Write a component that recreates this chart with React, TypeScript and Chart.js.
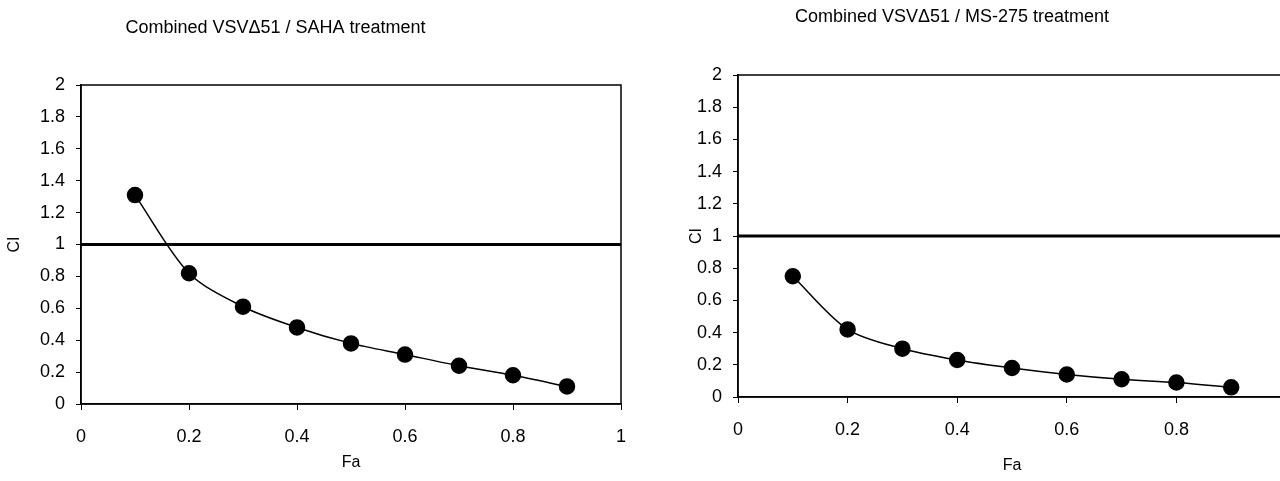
import { useEffect, useRef } from "react";
import { Chart, registerables } from "chart.js";

Chart.register(...registerables);

const faValues = [0.1, 0.2, 0.3, 0.4, 0.5, 0.6, 0.7, 0.8, 0.9];
const sahaCI = [1.31, 0.82, 0.61, 0.48, 0.38, 0.31, 0.24, 0.18, 0.11];
const ms275CI = [0.75, 0.42, 0.3, 0.23, 0.18, 0.14, 0.11, 0.09, 0.06];
const refFa = [0, 1];
const refCI = [1, 1];
const xTicks = [0, 0.2, 0.4, 0.6, 0.8, 1];
const yTicks = [0, 0.2, 0.4, 0.6, 0.8, 1, 1.2, 1.4, 1.6, 1.8, 2];

const FONT = "'Liberation Sans', Arial, sans-serif";

const fmt = (v: number) => String(Number(v.toFixed(1)));

const framePlugin = {
  id: "frame",
  afterDatasetsDraw(chart: any) {
    const { ctx, chartArea } = chart;
    ctx.save();
    ctx.strokeStyle = "#000";
    ctx.lineWidth = 1.5;
    ctx.strokeRect(chartArea.left, chartArea.top, chartArea.right - chartArea.left, chartArea.bottom - chartArea.top);
    ctx.restore();
  },
};

type Dims = {
  title: string;
  ci: number[];
  padRight: number;
  titleTop: number;
  titleBottom: number;
  yWidth: number;
  xHeight: number;
  yTitlePad: number;
  xTitlePad: number;
};

function makeConfig(d: Dims): any {
  return {
    type: "scatter",
    data: {
      datasets: [
        {
          data: faValues.map((x, i) => ({ x, y: d.ci[i] })),
          showLine: true,
          borderColor: "#000",
          borderWidth: 1.5,
          backgroundColor: "#000",
          pointBackgroundColor: "#000",
          pointBorderColor: "#000",
          pointRadius: 7.5,
          tension: 0.3,
        },
        {
          data: refFa.map((x, i) => ({ x, y: refCI[i] })),
          showLine: true,
          borderColor: "#000",
          borderWidth: 3,
          pointRadius: 0,
        },
      ],
    },
    options: {
      animation: false,
      responsive: false,
      events: [],
      layout: { padding: { left: 0, right: d.padRight, top: 0, bottom: 0 } },
      plugins: {
        legend: { display: false },
        tooltip: { enabled: false },
        title: {
          display: true,
          text: d.title,
          color: "#000",
          font: { family: FONT, size: 18, weight: "normal", lineHeight: 1.2 },
          padding: { top: d.titleTop, bottom: d.titleBottom },
        },
      },
      scales: {
        x: {
          type: "linear",
          min: 0,
          max: 1,
          afterBuildTicks: (s: any) => {
            s.ticks = xTicks.map((v) => ({ value: v }));
          },
          afterFit: (s: any) => {
            s.height = d.xHeight;
            s.paddingLeft = 0;
            s.paddingRight = 0;
          },
          ticks: {
            color: "#000",
            font: { family: FONT, size: 18, lineHeight: 1.2 },
            padding: 16.2,
            maxRotation: 0,
            autoSkip: false,
            callback: (v: number) => fmt(v),
          },
          grid: { display: true, drawOnChartArea: false, drawTicks: true, tickLength: 6, color: "#000" },
          border: { display: true, color: "#000", width: 1.5 },
          title: {
            display: true,
            text: "Fa",
            color: "#000",
            font: { family: FONT, size: 16, lineHeight: 1.2 },
            padding: { top: 0, bottom: d.xTitlePad },
          },
        },
        y: {
          type: "linear",
          min: 0,
          max: 2,
          afterBuildTicks: (s: any) => {
            s.ticks = yTicks.map((v) => ({ value: v }));
          },
          afterFit: (s: any) => {
            s.width = d.yWidth;
            s.paddingTop = 0;
            s.paddingBottom = 0;
          },
          ticks: {
            color: "#000",
            font: { family: FONT, size: 18, lineHeight: 1.2 },
            padding: 11,
            autoSkip: false,
            callback: (v: number) => fmt(v),
          },
          grid: { display: true, drawOnChartArea: false, drawTicks: true, tickLength: 5, color: "#000" },
          border: { display: true, color: "#000", width: 1.5 },
          title: {
            display: true,
            text: "CI",
            color: "#000",
            font: { family: FONT, size: 16, lineHeight: 1.2 },
            padding: { top: d.yTitlePad, bottom: 0 },
          },
        },
      },
    },
    plugins: [framePlugin],
  };
}

function ChartCanvas({ dims, width, height, left }: { dims: Dims; width: number; height: number; left: number }) {
  const ref = useRef<HTMLCanvasElement | null>(null);
  useEffect(() => {
    if (!ref.current) return;
    const chart = new Chart(ref.current, makeConfig(dims));
    return () => chart.destroy();
  }, []);
  return (
    <canvas
      ref={ref}
      width={width}
      height={height}
      style={{ position: "absolute", left, top: 0, width, height }}
    />
  );
}

// left chart: canvas at page x -75 -> plot 81..626
const leftDims: Dims = {
  title: "Combined VSV\u039451 / SAHA treatment",
  ci: sahaCI,
  padRight: 4,
  titleTop: 17.2,
  titleBottom: 46.2,
  yWidth: 156,
  xHeight: 77,
  yTitlePad: 80.4,
  xTitlePad: 8.4,
};

// right chart: canvas at page x 614 -> plot 738..1290
const rightDims: Dims = {
  title: "Combined VSV\u039451 / MS-275 treatment",
  ci: ms275CI,
  padRight: 5,
  titleTop: 6.2,
  titleBottom: 47.2,
  yWidth: 124,
  xHeight: 84,
  yTitlePad: 73.4,
  xTitlePad: 5.4,
};

export default function App() {
  return (
    <div
      style={{
        position: "fixed",
        left: 0,
        top: 0,
        width: 1280,
        height: 481,
        overflow: "hidden",
        background: "#fff",
      }}
    >
      <ChartCanvas dims={leftDims} width={705} height={481} left={-75} />
      <ChartCanvas dims={rightDims} width={681} height={481} left={614} />
    </div>
  );
}
